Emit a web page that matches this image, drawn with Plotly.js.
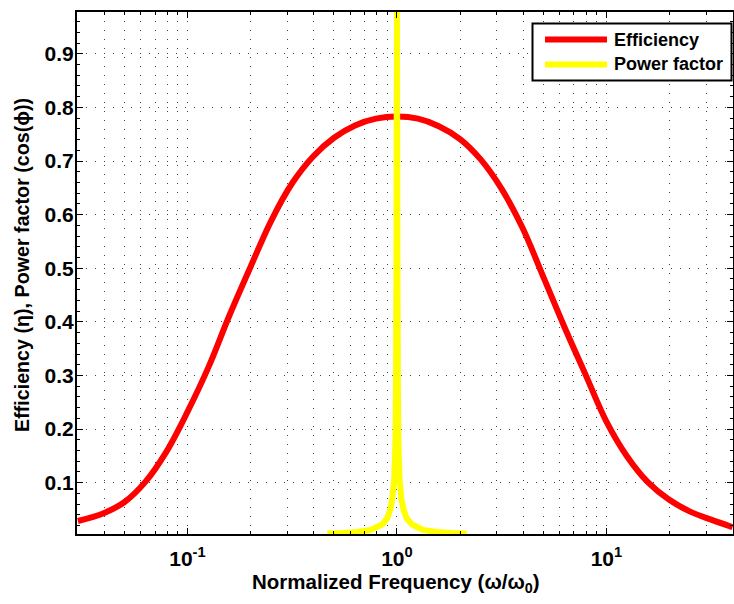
<!DOCTYPE html>
<html>
<head>
<meta charset="utf-8">
<script src="https://cdn.plot.ly/plotly-3.0.1.min.js"></script>
<style>html,body{margin:0;padding:0;background:#fff;}#chart{width:734px;height:604px;}</style>
</head>
<body>
<div id="chart"></div>
<script>
// Normalized frequency samples (omega/omega0) and efficiency
const effFreq = [0.03, 0.0398, 0.0501, 0.0631, 0.0794, 0.1, 0.126, 0.158, 0.2, 0.251, 0.316, 0.398, 0.501, 0.631, 0.794, 1.0,
                 1.26, 1.585, 2.0, 2.51, 3.16, 3.98, 5.01, 6.31, 7.94, 10, 12.6, 15.85, 19.95, 25.1, 31.6, 40];
const efficiency = [0.0285, 0.043, 0.064, 0.102, 0.158, 0.232, 0.3155, 0.4105, 0.5025, 0.5885, 0.6585, 0.7085, 0.7435, 0.7665, 0.779, 0.783,
                    0.779, 0.765, 0.741, 0.703, 0.648, 0.575, 0.483, 0.390, 0.302, 0.214, 0.148, 0.100, 0.068, 0.046, 0.031, 0.017];

// Power factor samples
const pfFreq = [0.465, 0.55, 0.65, 0.75, 0.85, 0.9, 0.93, 0.95, 0.97, 0.98, 0.985, 0.99, 0.995, 1.0, 1.005, 1.01, 1.015, 1.02, 1.03, 1.05, 1.075, 1.11, 1.18, 1.33, 1.55, 1.8, 2.15];
const powerFactor = [0.005, 0.006, 0.008, 0.012, 0.022, 0.034, 0.05, 0.07, 0.105, 0.15, 0.2, 0.29, 0.52, 1.0, 0.52, 0.29, 0.2, 0.15, 0.105, 0.07, 0.05, 0.034, 0.022, 0.012, 0.008, 0.006, 0.005];

const seriesNames = ['Efficiency', 'Power factor'];
const seriesColors = ['#ff0000', '#ffff00'];

const xTickVals = [0.1, 1, 10];
const xTickText = ['10<sup>-1</sup>', '10<sup>0</sup>', '10<sup>1</sup>'];
const xMinorVals = [0.03,0.04,0.05,0.06,0.07,0.08,0.09,0.2,0.3,0.4,0.5,0.6,0.7,0.8,0.9,2,3,4,5,6,7,8,9,20,30,40];
const xTitle = 'Normalized Frequency (ω/ω<sub>0</sub>)';
const yTitle = 'Efficiency (η), Power factor (cos(ϕ))';

const FONT = 'Liberation Sans, Arial, Helvetica, sans-serif';
const gridDash = '1px,8px';

const W = 734, H = 604, M = {l: 77, r: 1, t: 12, b: 70};
const pw = W - M.l - M.r, ph = H - M.t - M.b;
const px2x = p => (p - M.l) / pw;
const py2y = p => (H - M.b - p) / ph;

const traces = [
  {x: effFreq, y: efficiency, name: seriesNames[0], type: 'scatter', mode: 'lines', showlegend: false,
   line: {color: seriesColors[0], width: 6, shape: 'spline', smoothing: 1, simplify: false}},
  {x: pfFreq, y: powerFactor, name: seriesNames[1], type: 'scatter', mode: 'lines', showlegend: false,
   line: {color: seriesColors[1], width: 6, simplify: false}}
];

// Manual MATLAB-style legend box
const legBox = {x0: 532.5, x1: 731.5, y0: 23.5, y1: 80.5};
const rowY = [39.5, 64.5];
const shapes = [
  {type: 'rect', xref: 'paper', yref: 'paper', x0: px2x(legBox.x0), x1: px2x(legBox.x1), y0: py2y(legBox.y1), y1: py2y(legBox.y0),
   line: {color: '#000', width: 2}, fillcolor: '#fff', layer: 'above'}
];
const annotations = [];
seriesNames.forEach((n, i) => {
  shapes.push({type: 'line', xref: 'paper', yref: 'paper', x0: px2x(545), x1: px2x(607), y0: py2y(rowY[i]), y1: py2y(rowY[i]),
               line: {color: seriesColors[i], width: 6}, layer: 'above'});
  annotations.push({xref: 'paper', yref: 'paper', x: px2x(612), y: py2y(rowY[i]), xanchor: 'left', yanchor: 'middle',
                    text: n, showarrow: false, font: {family: FONT, size: 18, color: '#000', weight: 'bold'}});
});
// Axis titles placed as in the reference
annotations.push({xref: 'paper', yref: 'paper', x: px2x(396), y: py2y(583), xanchor: 'center', yanchor: 'middle',
                  text: xTitle, showarrow: false, font: {family: FONT, size: 20.5, color: '#000', weight: 'bold'}});
annotations.push({xref: 'paper', yref: 'paper', x: px2x(22), y: py2y(265), xanchor: 'center', yanchor: 'middle', textangle: -90,
                  text: yTitle, showarrow: false, font: {family: FONT, size: 19.7, color: '#000', weight: 'bold'}});

const layout = {
  width: W, height: H,
  margin: {l: M.l, r: M.r, t: M.t, b: M.b, pad: 0},
  paper_bgcolor: '#fff', plot_bgcolor: '#fff',
  font: {family: FONT, size: 18, color: '#000', weight: 'bold'},
  showlegend: false,
  shapes: shapes, annotations: annotations,
  xaxis: {
    type: 'log', range: [Math.log10(0.0297), Math.log10(40.2)],
    tickmode: 'array', tickvals: xTickVals, ticktext: xTickText,
    ticks: 'inside', ticklen: 6, tickwidth: 1, tickcolor: '#000',
    showline: true, linecolor: '#000', linewidth: 2, mirror: 'ticks',
    showgrid: true, gridcolor: '#444', gridwidth: 1, griddash: gridDash,
    zeroline: false, ticklabelstandoff: 5,
    tickfont: {family: FONT, size: 21, color: '#000', weight: 'bold'},
    minor: {tickmode: 'array', tickvals: xMinorVals, ticks: 'inside', ticklen: 3, tickcolor: '#000',
            showgrid: true, gridcolor: '#444', gridwidth: 1, griddash: gridDash}
  },
  yaxis: {
    range: [0.0043, 0.978],
    tickmode: 'linear', tick0: 0, dtick: 0.1,
    ticks: 'inside', ticklen: 6, tickwidth: 1, tickcolor: '#000',
    showline: true, linecolor: '#000', linewidth: 2, mirror: 'ticks',
    showgrid: true, gridcolor: '#444', gridwidth: 1, griddash: gridDash,
    zeroline: false, ticklabelstandoff: -3,
    tickfont: {family: FONT, size: 21, color: '#000', weight: 'bold'},
    minor: {dtick: 0.02, ticks: 'inside', ticklen: 3, tickcolor: '#000', showgrid: false}
  }
};

Plotly.newPlot('chart', traces, layout, {staticPlot: true, displayModeBar: false});
</script>
</body>
</html>
